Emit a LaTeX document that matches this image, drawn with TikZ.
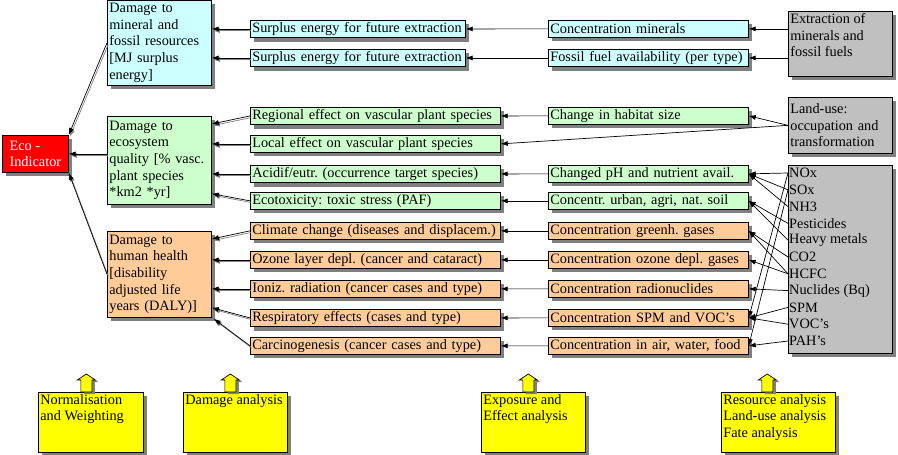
\documentclass[tikz,border=0pt]{standalone}
\usepackage{fontspec}
\setmainfont{Liberation Serif}
\usetikzlibrary{arrows.meta,calc,shadows}
\frenchspacing

\definecolor{resblue}{HTML}{CCFFFF}
\definecolor{ecogreen}{HTML}{CCFFCC}
\definecolor{hhorange}{HTML}{FFCC99}
\definecolor{invgray}{HTML}{C0C0C0}
\definecolor{shadowgray}{HTML}{808080}
\definecolor{noteyellow}{HTML}{FFFF00}

\begin{document}
\begin{tikzpicture}[x=1pt,y=-1pt,
	box/.style={draw,line width=.7pt,anchor=north west,inner sep=2pt,align=left,
		font=\fontsize{14.3}{16.7}\selectfont,
		drop shadow={shadow xshift=4pt,shadow yshift=-4pt,fill=shadowgray,opacity=1}},
	row/.style={box,minimum height=17pt,text width=#1},
	damage/.style={box,text width=100pt,minimum height=#1},
	item/.style={anchor=west,inner sep=1pt,font=\fontsize{14.3}{16.7}\selectfont},
	flow/.style={-{Latex[length=7pt,width=5pt]},line width=.7pt},
	flowsh/.style={flow,preaction={draw=shadowgray,line width=.7pt,transform canvas={shift={(1.2pt,-1.6pt)}}}},
	uparrow/.style={fill=noteyellow,draw,line width=.7pt,
		drop shadow={shadow xshift=3pt,shadow yshift=-2pt,fill=shadowgray,opacity=1}}]
	\useasboundingbox (0,0) rectangle (898,455);

	\node[box,fill=red,text=white,minimum width=66pt,minimum height=37pt] (eco) at (2,135) {Eco -\\Indicator};

	\node[damage=85pt,fill=resblue] (dres) at (107,0) {Damage to\\mineral and\\fossil resources\\{[}MJ surplus\\energy]};
	\node[damage=88pt,fill=ecogreen] (deco) at (107,116) {Damage to\\ecosystem\\quality [\% vasc.\\plant species\\{}*km2 *yr]};
	\node[damage=86pt,fill=hhorange] (dhh) at (107,231) {Damage to\\human health\\{[}disability\\adjusted life\\years (DALY)]};

	\node[row=211pt,fill=resblue] (sur1) at (250,20) {Surplus energy for future extraction};
	\node[row=211pt,fill=resblue] (sur2) at (250,49) {Surplus energy for future extraction};
	\node[row=246pt,fill=ecogreen] (reg) at (250,107) {Regional effect on vascular plant species};
	\node[row=246pt,fill=ecogreen] (loc) at (250,135) {Local effect on vascular plant species};
	\node[row=246pt,fill=ecogreen] (acid) at (250,165) {Acidif/eutr. (occurrence target species)};
	\node[row=246pt,fill=ecogreen] (etox) at (250,192) {Ecotoxicity: toxic stress (PAF)};
	\node[row=246pt,fill=hhorange] (clim) at (250,222) {Climate change (diseases and displacem.)};
	\node[row=246pt,fill=hhorange] (ozon) at (250,251) {Ozone layer depl. (cancer and cataract)};
	\node[row=246pt,fill=hhorange] (ioni) at (250,280) {Ioniz. radiation (cancer cases and type)};
	\node[row=246pt,fill=hhorange] (resp) at (250,309) {Respiratory effects (cases and type)};
	\node[row=246pt,fill=hhorange] (carc) at (250,337) {Carcinogenesis (cancer cases and type)};

	\node[row=196pt,fill=resblue] (cmin) at (548,20) {Concentration minerals};
	\node[row=196pt,fill=resblue] (cfos) at (548,49) {Fossil fuel availability (per type)};
	\node[row=196pt,fill=ecogreen] (chab) at (548,107) {Change in habitat size};
	\node[row=196pt,fill=ecogreen] (cph) at (548,165) {Changed pH and nutrient avail.};
	\node[row=196pt,fill=ecogreen] (csoil) at (548,192) {Concentr. urban, agri, nat. soil};
	\node[row=196pt,fill=hhorange] (cghg) at (548,222) {Concentration greenh. gases};
	\node[row=196pt,fill=hhorange] (cozo) at (548,251) {Concentration ozone depl. gases};
	\node[row=196pt,fill=hhorange] (crad) at (548,280) {Concentration radionuclides};
	\node[row=196pt,fill=hhorange] (cspm) at (548,309) {Concentration SPM and VOC's};
	\node[row=196pt,fill=hhorange] (cfood) at (548,337) {Concentration in air, water, food};

	\node[box,fill=invgray] (ext) at (788,11) {\parbox[t][61pt][t]{100pt}{Extraction of\\minerals and\\fossil fuels}};
	\node[box,fill=invgray,text width=100pt,minimum height=56pt] (land) at (788,97) {Land-use:\\occupation and\\transformation};
	\node[box,fill=invgray,minimum width=104pt,minimum height=188pt] (emis) at (788,165) {};
	\foreach \n/\t [count=\i from 0] in {nox/NOx,sox/SOx,nh3/NH3,pest/Pesticides,hm/Heavy metals,co2/CO2,hcfc/HCFC,nucl/Nuclides (Bq),spm/SPM,voc/VOC's,pah/PAH's}
		\node[item] (\n) at (788,{173+16.8*\i}) {\t};

	\node[box,fill=noteyellow] (nw) at (38,392) {\parbox[t][56pt][t]{101pt}{Normalisation\\and Weighting}};
	\node[box,fill=noteyellow] (da) at (183,392) {\parbox[t][56pt][t]{100pt}{Damage analysis}};
	\node[box,fill=noteyellow] (ea) at (481,392) {\parbox[t][56pt][t]{100pt}{Exposure and\\Effect analysis}};
	\node[box,fill=noteyellow] (ra) at (721,392) {\parbox[t][56pt][t]{110pt}{Resource analysis\\Land-use analysis\\Fate analysis}};
	\foreach \b/\dx in {nw/-4.5,da/-5,ea/-5,ra/-11}
		\filldraw[uparrow] ([xshift=\dx pt]\b.north) ++(0,-18) -- ++(9,6) -- ++(-3.5,0) -- ++(0,12) -- ++(-11,0) -- ++(0,-12) -- ++(-3.5,0) -- cycle;

	\draw[flowsh] (dres.west) -- (eco.north east);
	\draw[flowsh] (eco.east -| deco.west) -- (eco.east);
	\draw[flowsh] (dhh.west) -- (eco.south east);

	\draw[flowsh] (sur1.west) -- (sur1.west -| dres.east);
	\draw[flowsh] (sur2.west) -- (sur2.west -| dres.east);
	\draw[flowsh] (reg.west) -- ($(deco.north east)+(0,8)$);
	\draw[flowsh] (loc.west) -- (loc.west -| deco.east);
	\draw[flowsh] (acid.west) -- (acid.west -| deco.east);
	\draw[flowsh] (etox.west) -- ($(deco.south east)+(0,-11)$);
	\draw[flowsh] (clim.west) -- ($(dhh.north east)+(0,8)$);
	\draw[flowsh] (ozon.west) -- (ozon.west -| dhh.east);
	\draw[flowsh] (ioni.west) -- (ioni.west -| dhh.east);
	\draw[flowsh] (resp.west) -- ($(dhh.south east)+(0,-10)$);
	\draw[flowsh] (carc.west) -- ($(dhh.south east)+(2,1)$);

	\draw[flow] (cmin.west) -- (sur1.east);
	\draw[flow] (cfos.west) -- (sur2.east);
	\draw[flow] (chab.west) -- (reg.east);
	\draw[flow] (land.west) -- (loc.east);
	\draw[flow] (cph.west) -- (acid.east);
	\draw[flow] (csoil.west) -- (etox.east);
	\draw[flow] (cghg.west) -- (clim.east);
	\draw[flow] (cozo.west) -- (ozon.east);
	\draw[flow] (crad.west) -- (ioni.east);
	\draw[flow] (cspm.west) -- (resp.east);
	\draw[flow] (cfood.west) -- (carc.east);

	\draw[flow] (cmin.east -| ext.west) -- (cmin.east);
	\draw[flow] (cfos.east -| ext.west) -- (cfos.east);
	\draw[flow] (land.west) -- (chab.east);

	\draw[flow] (nox.west) -- (cph.east);
	\draw[flow] (sox.west) -- (cph.east);
	\draw[flow] (nh3.west) -- (cph.east);
	\draw[flow] (pest.west) -- (csoil.east);
	\draw[flow] (hm.west) -- (csoil.east);
	\draw[flow] (co2.west) -- (cghg.east);
	\draw[flow] (hcfc.west) -- (cghg.east);
	\draw[flow] (hcfc.west) -- (cozo.east);
	\draw[flow] (nucl.west) -- (crad.east);
	\draw[flow] (spm.west) -- (cspm.east);
	\draw[flow] (voc.west) -- (cspm.east);
	\draw[flow] (pah.west) -- (cfood.east);
	\draw[flow] (nox.west) -- (cspm.east);
	\draw[flow] (sox.west) -- (cfood.east);
\end{tikzpicture}
\end{document}
